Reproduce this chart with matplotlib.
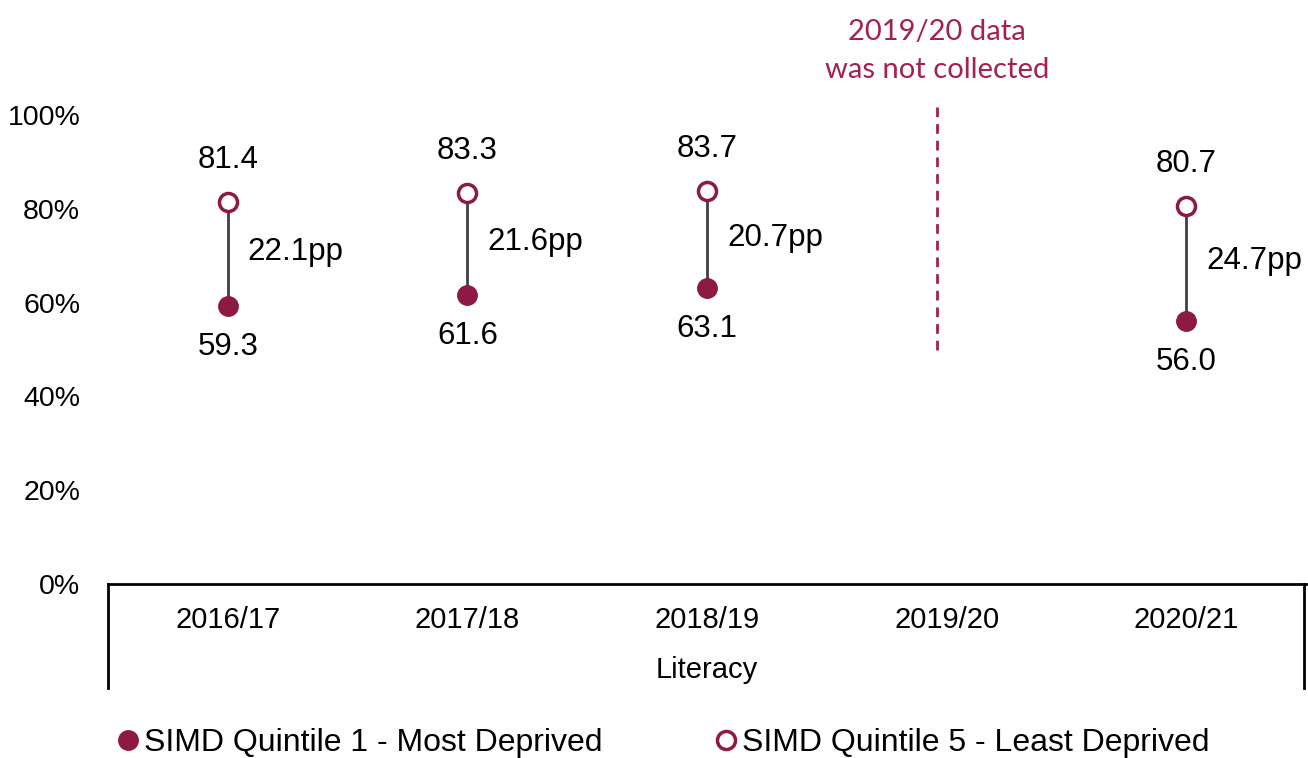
import matplotlib
matplotlib.use("Agg")
import matplotlib.pyplot as plt
import numpy as np

categories = ["2016/17", "2017/18", "2018/19", "2019/20", "2020/21"]
q1_most_deprived = [59.3, 61.6, 63.1, np.nan, 56.0]
q5_least_deprived = [81.4, 83.3, 83.7, np.nan, 80.7]
gap_labels = ["22.1pp", "21.6pp", "20.7pp", "", "24.7pp"]
yticks = [0, 20, 40, 60, 80, 100]
group_label = "Literacy"
note_text = "2019/20 data\nwas not collected"

MAROON = "#8C1A43"
NOTE = "#A3204F"
plt.rcParams['font.family'] = ['Liberation Sans', 'DejaVu Sans']

fig = plt.figure(figsize=(13.08, 7.58), dpi=100)
ax = fig.add_axes([108/1308, 1-584/758, (1306-108)/1308, (584-115)/758])
x = np.arange(len(categories))
ax.set_xlim(-0.5, len(categories)-0.5)
ax.set_ylim(0, 100)

for i in range(len(categories)):
    lo, hi = q1_most_deprived[i], q5_least_deprived[i]
    if np.isnan(lo):
        continue
    ax.plot([x[i], x[i]], [lo, hi], color="#404040", lw=2, zorder=1)
    ax.annotate(f"{hi:.1f}", (x[i], hi), xytext=(0, 42), textcoords="offset pixels",
                ha="center", va="center", fontsize=22.5)
    ax.annotate(f"{lo:.1f}", (x[i], lo), xytext=(0, -41), textcoords="offset pixels",
                ha="center", va="center", fontsize=22.5)
    ax.annotate(gap_labels[i], (x[i], (lo+hi)/2), xytext=(20, 2), textcoords="offset pixels",
                ha="left", va="center", fontsize=22.5)

ax.plot(x, q1_most_deprived, "o", ls="none", color=MAROON, ms=14, zorder=3,
        label="SIMD Quintile 1 - Most Deprived")
ax.plot(x, q5_least_deprived, "o", ls="none", mfc="white", mec=MAROON, mew=2.5, ms=13, zorder=3,
        label="SIMD Quintile 5 - Least Deprived")

# dashed line for missing year
ax.plot([2.96, 2.96], [50, 102.6], ls=(0, (3.5, 2.5)), color=NOTE, lw=2, clip_on=False)
ax.text(2.96, 113.6, note_text, ha="center", va="center", color=NOTE, fontsize=21,
        family=["Lato", "DejaVu Sans"], linespacing=1.55, clip_on=False)

ax.set_yticks(yticks)
ax.set_yticklabels([f"{v}%" for v in yticks], fontsize=20.5)
ax.tick_params(axis="y", length=0, pad=20)
ax.set_xticks(x)
ax.set_xticklabels(categories, fontsize=21)
ax.tick_params(axis="x", length=0, pad=16)
for s in ["top", "right", "left"]:
    ax.spines[s].set_visible(False)
ax.spines["bottom"].set_linewidth(2)

# multi-level axis box
bottom_y = -(688-584)/469
ax.plot([0, 0], [0, bottom_y], transform=ax.transAxes, color="black", lw=2, clip_on=False)
ax.plot([0.9985, 0.9985], [0, bottom_y], transform=ax.transAxes, color="black", lw=2, clip_on=False)
ax.text(0.5, -(670-584)/469, group_label, transform=ax.transAxes, ha="center", va="center", fontsize=21)

leg = fig.legend(loc="center", bbox_to_anchor=(661/1308, 1-743/758), ncol=2, frameon=False,
                 fontsize=23, handletextpad=0.0, columnspacing=3.37, handlelength=1.0,
                 borderaxespad=0, borderpad=0)

fig.savefig("out.png", dpi=100)
